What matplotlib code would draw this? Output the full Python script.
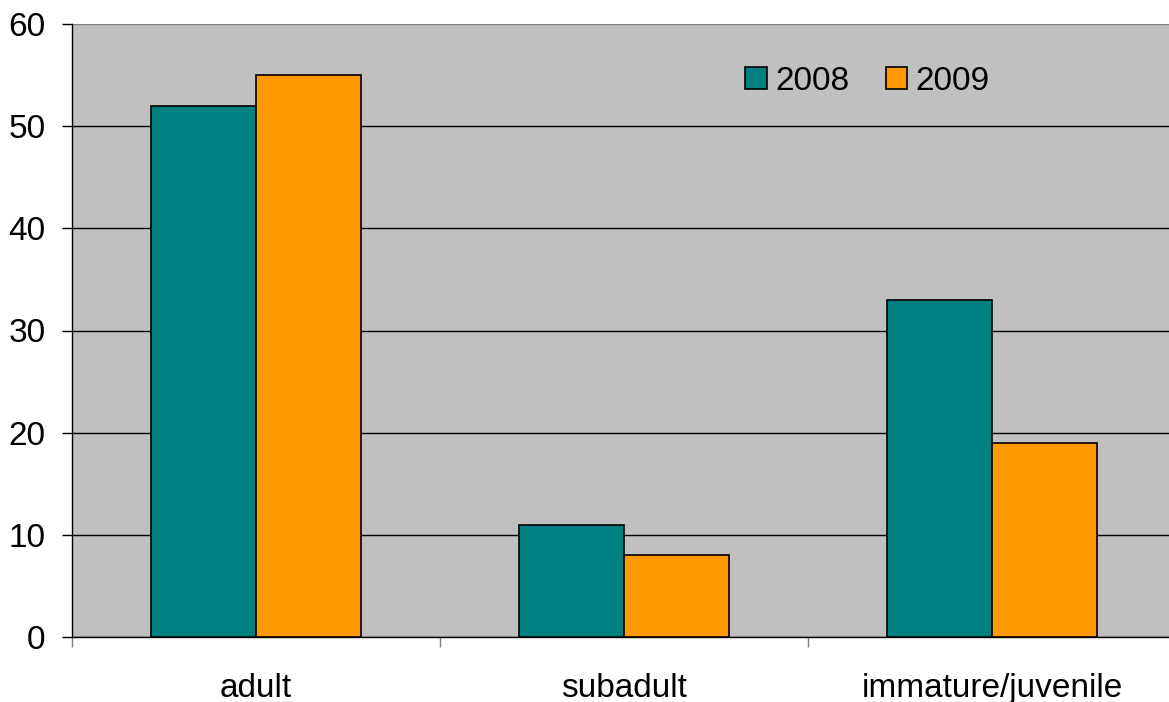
import numpy as np
import matplotlib.pyplot as plt

# age class counts per year
categories = ["adult", "subadult", "immature/juvenile"]
years = ["2008", "2009"]
counts_2008 = [52, 11, 33]
counts_2009 = [55, 8, 19]

plt.rcParams['font.family'] = ['Liberation Sans', 'DejaVu Sans']

fig = plt.figure(figsize=(11.69, 7.02), dpi=100)
ax = fig.add_axes([72 / 1169, 1 - 637 / 702, 1104 / 1169, 613 / 702])
ax.set_facecolor("#c0c0c0")

x = np.arange(len(categories))
w = 0.285
ax.bar(x - w / 2, counts_2008, w, color="#008080", edgecolor="black",
       linewidth=1.2, label=years[0], zorder=3)
ax.bar(x + w / 2, counts_2009, w, color="#ff9900", edgecolor="black",
       linewidth=1.2, label=years[1], zorder=3)

ax.set_xlim(-0.5, 2.5)
ax.set_ylim(0, 60)
ax.set_yticks(np.arange(0, 61, 10))
ax.yaxis.grid(True, color="black", linewidth=1, zorder=1)
ax.set_axisbelow(True)
# the topmost gridline is the plot border, drawn lighter
ax.get_ygridlines()[-1].set_color("#808080")

# category labels at centres, tick marks at the boundaries
ax.set_xticks(x)
ax.set_xticklabels(categories)
ax.set_xticks([-0.5, 0.5, 1.5], minor=True)
ax.tick_params(axis="x", which="major", length=0, pad=26, labelsize=24)
ax.tick_params(axis="x", which="minor", length=7.5, width=1, color="#808080")
ax.tick_params(axis="y", length=7.5, width=1, pad=11.5, labelsize=24)

for side in ["top", "right"]:
    ax.spines[side].set_visible(False)
ax.spines["left"].set_linewidth(1)
ax.spines["bottom"].set_linewidth(1)

ax.legend(loc="center left", bbox_to_anchor=((745 - 72) / 1104, 1 - (81 - 24) / 613),
          ncol=2, frameon=False, fontsize=24, borderpad=0, borderaxespad=0,
          handlelength=0.65, handleheight=0.65, handletextpad=0.25,
          columnspacing=1.1)

fig.savefig("out.png", dpi=100)
